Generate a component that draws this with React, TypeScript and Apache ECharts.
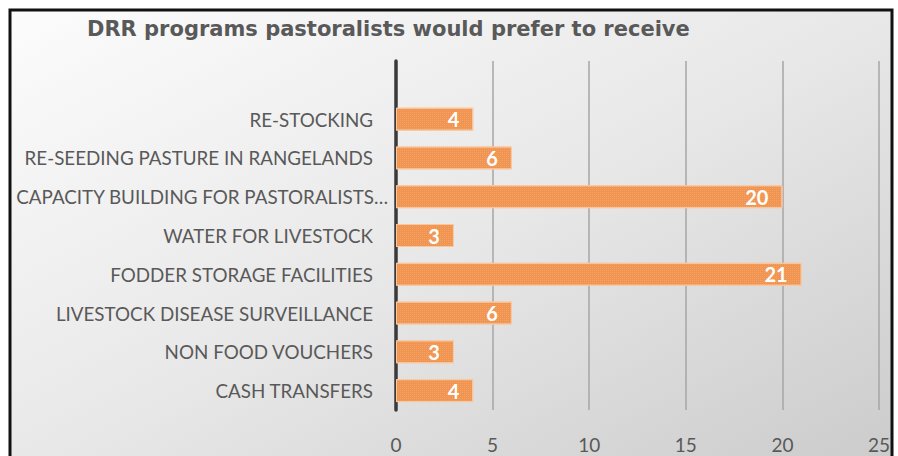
import React, { useEffect, useRef } from "react";
import * as echarts from "echarts";

const categories = [
  "",
  "RE-STOCKING",
  "RE-SEEDING PASTURE IN RANGELANDS",
  "CAPACITY BUILDING FOR PASTORALISTS…",
  "WATER FOR LIVESTOCK",
  "FODDER STORAGE FACILITIES",
  "LIVESTOCK DISEASE SURVEILLANCE",
  "NON FOOD VOUCHERS",
  "CASH TRANSFERS",
];
const values: (number | null)[] = [null, 4, 6, 20, 3, 21, 6, 3, 4];
const titleText = "DRR programs pastoralists would prefer to receive";
const truncatedLabel = "CAPACITY BUILDING FOR PASTORALISTS…";

export default function App() {
  const ref = useRef<HTMLDivElement>(null);
  useEffect(() => {
    if (!ref.current) return;
    const chart = echarts.init(ref.current, null, { renderer: "svg" });
    chart.setOption({
      animation: false,
      backgroundColor: "#ffffff",
      graphic: [
        {
          type: "rect",
          z: -10,
          silent: true,
          shape: { x: 10, y: 10, width: 882, height: 460 },
          style: {
            fill: new echarts.graphic.LinearGradient(0, 0, 1, 1, [
              { offset: 0, color: "#fcfcfc" },
              { offset: 0.5, color: "#e8e8e8" },
              { offset: 1, color: "#cbcbcb" },
            ]),
            stroke: "#111111",
            lineWidth: 3,
          },
        },
      ],
      title: {
        text: titleText,
        left: 82,
        top: 13,
        textStyle: {
          fontFamily: "DejaVu Sans",
          fontWeight: "bold",
          fontSize: 21,
          color: "#595959",
        },
      },
      grid: {
        left: 396,
        right: 19,
        top: 61,
        bottom: 46,
        containLabel: false,
        outerBoundsMode: "none",
      },
      xAxis: {
        type: "value",
        min: 0,
        max: 25,
        interval: 5,
        axisLine: { show: false },
        axisTick: { show: false },
        axisLabel: {
          color: "#595959",
          fontFamily: "Lato",
          fontSize: 19,
          margin: 25,
        },
        splitLine: { show: true, lineStyle: { color: "#a6a6a6", width: 1.5 } },
      },
      yAxis: {
        type: "category",
        data: categories.map((c) =>
          c === truncatedLabel
            ? { value: c, textStyle: { padding: [0, -15, 0, 0] } }
            : c
        ),
        inverse: true,
        axisLine: { show: true, lineStyle: { color: "#3a3a3a", width: 3.5 } },
        axisTick: { show: false },
        axisLabel: {
          color: "#595959",
          fontFamily: "Lato",
          fontSize: 18.8,
          margin: 23,
        },
      },
      series: [
        {
          type: "bar",
          data: values,
          barWidth: 23,
          itemStyle: {
            color: "#f0944f",
            borderColor: "#f8c8a2",
            borderWidth: 1,
            decal: {
              symbol: "rect",
              symbolSize: 1,
              color: "rgba(255,255,255,0.14)",
              dashArrayX: [1, 1],
              dashArrayY: [1, 1],
              rotation: 0,
            },
          },
          label: {
            show: true,
            position: "insideRight",
            distance: 14,
            color: "#ffffff",
            fontFamily: "Lato",
            fontWeight: "bold",
            fontSize: 20,
          },
        },
      ],
    });
    return () => chart.dispose();
  }, []);
  return (
    <div
      ref={ref}
      style={{ position: "fixed", left: 0, top: 0, width: 898, height: 456 }}
    />
  );
}
